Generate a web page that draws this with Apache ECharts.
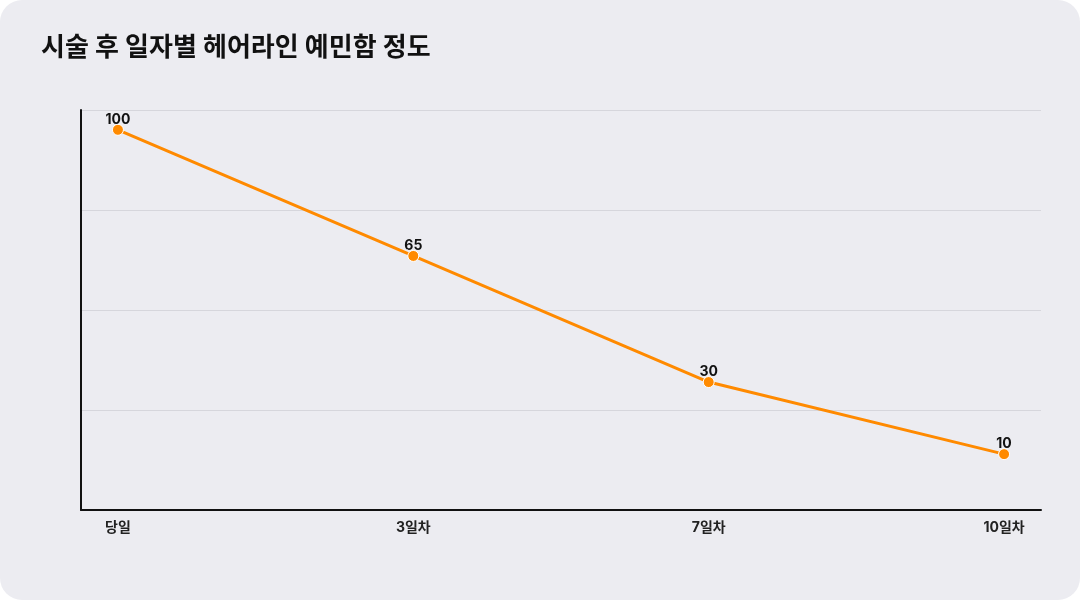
<!DOCTYPE html>
<html>
<head>
<meta charset="utf-8">
<script src="https://cdn.jsdelivr.net/npm/echarts@6/dist/echarts.min.js"></script>
<style>
    html, body {
        width: 100%;
        height: 100%;
        margin: 0;
        background: #ffffff;
    }
    #main {
        width: 1080px;
        height: 600px;
        border-radius: 22px;
        background: #ececf1;
        overflow: hidden;
    }
</style>
</head>
<body>
<div id="main"></div>
<script>
    var days = ['당일', '3일차', '7일차', '10일차'];
    var sensitivity = [100, 65, 30, 10];
    var titleText = '시술 후 일자별 헤어라인 예민함 정도';

    var fontFamily = 'Inter, "Noto Sans CJK KR", sans-serif';

    var chart = echarts.init(document.getElementById('main'), null, {renderer: 'canvas'});

    var points = days.map(function (d, i) {
        return [i, sensitivity[i]];
    });

    chart.setOption({
        backgroundColor: 'transparent',
        animation: false,
        title: {
            text: titleText,
            left: 36,
            top: 30,
            textStyle: {
                fontFamily: fontFamily,
                fontSize: 26,
                fontWeight: 'bold',
                color: '#111111'
            }
        },
        grid: {
            left: 81,
            right: 39,
            top: 110,
            bottom: 90
        },
        xAxis: {
            type: 'value',
            min: -0.125,
            max: 3.125,
            axisLine: {show: true, onZero: false, lineStyle: {color: '#111111', width: 2}},
            axisTick: {show: false},
            splitLine: {show: false},
            axisLabel: {
                customValues: [0, 1, 2, 3],
                formatter: function (v) {
                    return days[Math.round(v)];
                },
                margin: 11,
                fontFamily: fontFamily,
                fontSize: 14,
                fontWeight: 'bold',
                color: '#222222'
            }
        },
        yAxis: [
            {
                type: 'value',
                min: -5.5,
                max: 105.5,
                axisLine: {show: true, onZero: false, lineStyle: {color: '#111111', width: 2}},
                axisTick: {show: false},
                axisLabel: {show: false},
                splitLine: {show: false}
            },
            {
                // only for the horizontal grid lines
                type: 'value',
                min: 0,
                max: 4,
                interval: 1,
                position: 'left',
                axisLine: {show: false},
                axisTick: {show: false},
                axisLabel: {show: false},
                splitLine: {show: true, lineStyle: {color: '#d6d6dc', width: 1}}
            }
        ],
        series: [
            {
                type: 'line',
                yAxisIndex: 0,
                data: points,
                symbol: 'circle',
                symbolSize: 11,
                lineStyle: {color: '#ff8a00', width: 3},
                itemStyle: {color: '#ff8a00', borderColor: '#ffffff', borderWidth: 1},
                label: {
                    show: true,
                    position: 'top',
                    distance: -3,
                    formatter: function (p) {
                        return p.value[1];
                    },
                    fontFamily: fontFamily,
                    fontSize: 14,
                    fontWeight: 'bold',
                    color: '#111111'
                }
            }
        ]
    });
</script>
</body>
</html>
